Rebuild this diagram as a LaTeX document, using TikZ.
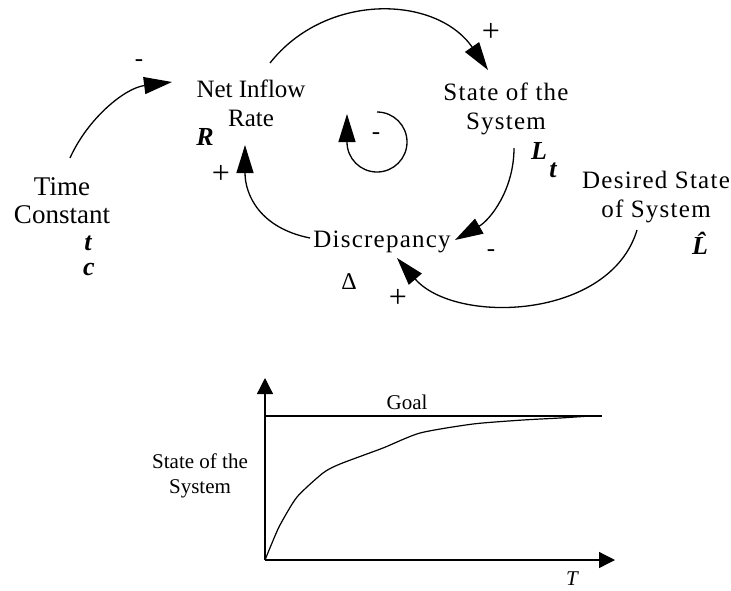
\documentclass[tikz,border=0pt]{standalone}
\usepackage{fontspec}
\setmainfont{Liberation Serif}
\newfontfamily\lsA[LetterSpace=5]{Liberation Serif}
\usetikzlibrary{arrows.meta}
\begin{document}
\begin{tikzpicture}[x=1pt,y=-1pt,
  lbl/.style={font=\fontsize{25}{29}\selectfont\lsA, align=center, inner sep=0pt},
  sym/.style={font=\fontsize{26}{29}\selectfont\bfseries\itshape, inner sep=0pt},
  sgn/.style={font=\fontsize{32}{36}\selectfont, inner sep=0pt},
  neg/.style={font=\fontsize{25}{29}\selectfont, inner sep=0pt},
  link/.style={line width=1.3pt, -{Triangle[length=28pt,width=17pt]}},
  axis/.style={line width=1.3pt, -{Triangle[length=16pt,width=16pt]}},
  plotlbl/.style={font=\fontsize{21}{25}\selectfont, align=center, inner sep=0pt}]
\useasboundingbox (0,0) rectangle (731,590);

% labels
\node[lbl, font=\fontsize{25}{29}\selectfont\rmfamily] (net) at (251,103) {Net Inflow\\Rate};
\node[lbl] (state) at (506,109) {State of the\\System};
\node[lbl] (desired) at (656,197) {Desired State\\of System};
\node[lbl, font=\fontsize{27}{28}\selectfont\rmfamily] (time) at (62,201) {Time\\Constant};
\node[lbl, anchor=base] (disc) at (382,247) {Discrepancy};

% symbols
\node[sym] (R) at (205,137) {R};
\node[sym] (tc1) at (88,243) {t};
\node[sym] (tc2) at (89,269) {c};
\node[sym] (L1) at (539,151) {L};
\node[sym] (L2) at (553,170) {t};
\node[sym] (Lhat) at (700,243) {\^{L}};
\node[font=\fontsize{24}{28}\selectfont, inner sep=0pt] (delta) at (349,282) {Δ};

% signs
\node[neg] (s1) at (139,63) {-};
\node[sgn] (s2) at (221,174) {+};
\node[sgn] (s3) at (491,32) {+};
\node[neg] (s4) at (491,253) {-};
\node[sgn] (s5) at (398,298) {+};
\node[neg] (s6) at (376,136) {-};

% connector ends
\coordinate (tA) at (70,158);
\coordinate (nA) at (172,82);
\coordinate (nB) at (270,63);
\coordinate (sB) at (488,70);
\coordinate (dC) at (310,238);
\coordinate (nC) at (245,145);
\coordinate (sD) at (514,148);
\coordinate (dD) at (455,240);
\coordinate (gE) at (637,230);
\coordinate (dE) at (397,258);

\draw[link] (tA) .. controls (88,118) and (125,88) .. (nA);
\draw[link] (nB) .. controls (326,-8) and (436,-5) .. (sB);
\draw[link] (dC) .. controls (260,228) and (245,195) .. (nC);
\draw[link] (sD) .. controls (514,190) and (490,220) .. (dD);
\draw[link] (gE) .. controls (610,320) and (455,325) .. (dE);

% inner loop
\coordinate (lp0) at (377,112);
\coordinate (lp4) at (347,114);
\draw[line width=1.3pt, -{Triangle[length=28pt,width=17pt]}]
  (lp0) .. controls (393.6,112) and (407,125.4) .. (407,142)
  .. controls (407,158.6) and (393.6,172) .. (377,172)
  .. controls (360.4,172) and (347,158.6) .. (347,142) -- (lp4);

% graph
\coordinate (O) at (265,560);
\coordinate (Ytop) at (265,378);
\coordinate (Xend) at (615,560);
\coordinate (G0) at (265,416);
\coordinate (G1) at (602,416);
\draw[axis] (O) -- (Ytop);
\draw[axis] (O) -- (Xend);
\draw[line width=1.3pt] (G0) -- (G1);
\draw[line width=1.2pt] plot[smooth, tension=0.4] coordinates {(265,560) (272,543) (280,525) (297,497) (323,473) (340,464) (383,448) (420,433) (473,424) (523,420) (560,418) (590,416)};
\node[plotlbl] (goal) at (407,402) {Goal};
\node[plotlbl, font=\fontsize{21}{25}\selectfont\itshape] (T) at (572,579) {T};
\node[plotlbl] (ylab) at (200,476) {State of the\\System};
\end{tikzpicture}
\end{document}
